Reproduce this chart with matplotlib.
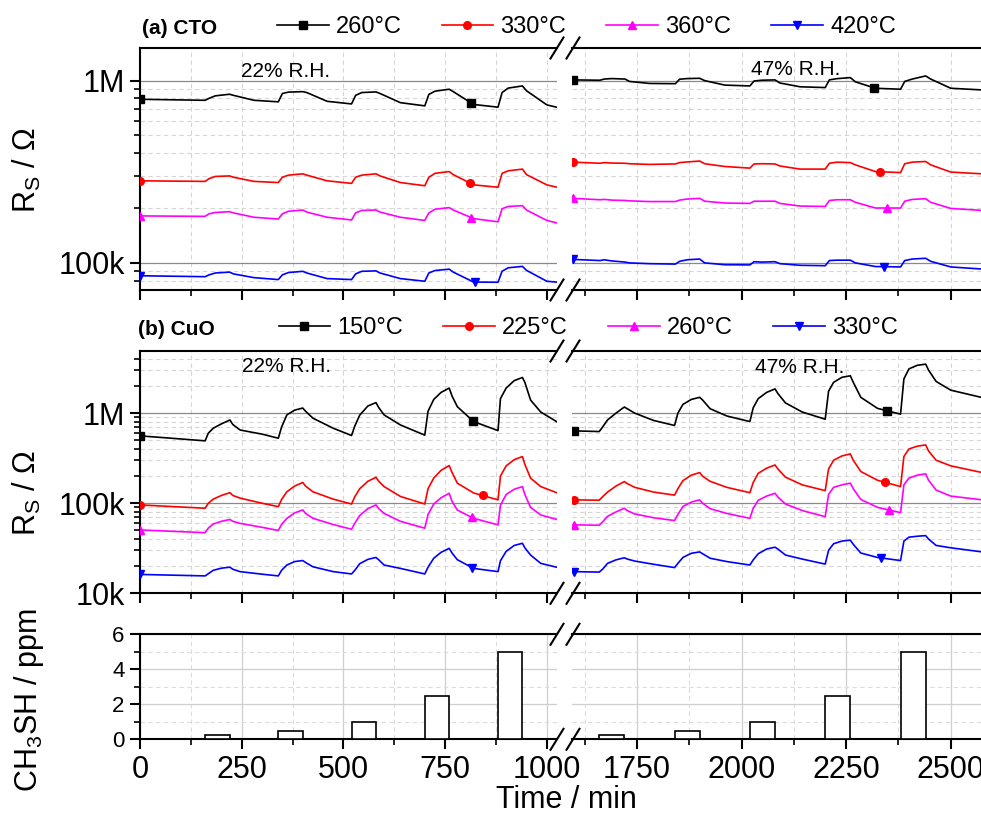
import numpy as np
import matplotlib
matplotlib.use('Agg')
import matplotlib.pyplot as plt
from matplotlib.lines import Line2D
from matplotlib.ticker import LogLocator, FixedLocator, FuncFormatter, NullFormatter

plt.rcParams['font.family'] = ['Liberation Sans', 'DejaVu Sans']
plt.rcParams['mathtext.fontset'] = 'custom'
plt.rcParams['mathtext.rm'] = 'Liberation Sans'
plt.rcParams['mathtext.it'] = 'Liberation Sans:italic'
plt.rcParams['mathtext.bf'] = 'Liberation Sans:bold'

# ---------------- data ----------------
series_colors = ['#000000', '#FF0000', '#FF00FF', '#0000FF']
series_markers = ['s', 'o', '^', 'v']
cto_labels = ['260°C', '330°C', '360°C', '420°C']
cuo_labels = ['150°C', '225°C', '260°C', '330°C']

# CTO (MOhm), left segment (22% RH)
cto_tL = [0, 160, 170, 185, 220, 230, 280, 340, 350, 365, 400, 410, 460, 520, 530, 545,
          580, 590, 640, 700, 710, 725, 760, 770, 820, 880, 890, 905, 940, 950, 1000, 1028]
cto260_L = [0.79, 0.78, 0.80, 0.825, 0.842, 0.83, 0.78, 0.765, 0.85, 0.865, 0.87, 0.86, 0.77, 0.745, 0.83, 0.86,
            0.867, 0.85, 0.757, 0.727, 0.84, 0.875, 0.897, 0.87, 0.74, 0.715, 0.86, 0.91, 0.935, 0.88, 0.736, 0.711]
cto330_L = [0.282, 0.28, 0.29, 0.298, 0.30, 0.295, 0.28, 0.276, 0.295, 0.303, 0.308, 0.303, 0.282, 0.273, 0.295, 0.303,
            0.308, 0.30, 0.276, 0.265, 0.295, 0.31, 0.317, 0.305, 0.268, 0.26, 0.31, 0.32, 0.327, 0.305, 0.268, 0.259]
cto360_L = [0.181, 0.18, 0.186, 0.189, 0.191, 0.188, 0.178, 0.174, 0.186, 0.192, 0.195, 0.19, 0.178, 0.172, 0.188, 0.194,
            0.195, 0.19, 0.178, 0.171, 0.188, 0.197, 0.201, 0.195, 0.175, 0.168, 0.198, 0.204, 0.206, 0.195, 0.171, 0.165]
cto420_L = [0.085, 0.084, 0.086, 0.088, 0.089, 0.087, 0.083, 0.081, 0.086, 0.0885, 0.0899, 0.088, 0.082, 0.081, 0.087, 0.0899,
            0.0904, 0.088, 0.082, 0.0793, 0.088, 0.0908, 0.0924, 0.089, 0.0785, 0.0783, 0.09, 0.094, 0.0957, 0.091, 0.0793, 0.0783]
# CTO right segment (47% RH)
cto_tR = [1598, 1662, 1672, 1690, 1722, 1732, 1780, 1842, 1852, 1870, 1900, 1912, 1960, 2020, 2030, 2048,
          2080, 2092, 2140, 2200, 2210, 2228, 2260, 2272, 2320, 2380, 2390, 2408, 2440, 2452, 2500, 2575]
cto260_R = [1.009, 1.005, 1.02, 1.026, 1.02, 0.99, 0.965, 0.962, 1.018, 1.026, 1.03, 1.0, 0.945, 0.935, 0.995, 1.005,
            1.009, 0.97, 0.925, 0.916, 1.01, 1.025, 1.039, 0.985, 0.908, 0.897, 0.99, 1.02, 1.061, 1.02, 0.908, 0.889]
cto330_R = [0.357, 0.352, 0.355, 0.353, 0.352, 0.35, 0.347, 0.349, 0.355, 0.358, 0.362, 0.35, 0.338, 0.331, 0.349, 0.35,
            0.349, 0.34, 0.327, 0.327, 0.352, 0.357, 0.355, 0.345, 0.317, 0.313, 0.35, 0.357, 0.36, 0.345, 0.315, 0.308]
cto360_R = [0.226, 0.222, 0.223, 0.221, 0.22, 0.219, 0.217, 0.217, 0.221, 0.224, 0.226, 0.218, 0.213, 0.212, 0.218, 0.218,
            0.218, 0.212, 0.205, 0.204, 0.22, 0.222, 0.222, 0.215, 0.2, 0.2, 0.218, 0.223, 0.225, 0.215, 0.199, 0.194]
cto420_R = [0.1045, 0.103, 0.104, 0.1025, 0.101, 0.1, 0.099, 0.0985, 0.102, 0.104, 0.105, 0.1, 0.0977, 0.0975, 0.1015, 0.101,
            0.1015, 0.099, 0.097, 0.0965, 0.103, 0.1035, 0.1035, 0.1, 0.0955, 0.095, 0.103, 0.105, 0.106, 0.102, 0.095, 0.0925]

# CuO (MOhm), left segment
cuo_tL = [0, 160, 168, 180, 200, 221, 228, 246, 300, 340, 348, 361, 380, 400, 407, 425, 475, 520, 528, 540,
          560, 580, 587, 600, 640, 700, 708, 722, 740, 760, 767, 780, 820, 880, 886, 900, 920, 940, 946, 960, 985, 1028]
cuo150_L = [0.56, 0.493, 0.60, 0.68, 0.76, 0.84, 0.75, 0.65, 0.585, 0.527, 0.70, 0.957, 1.08, 1.14, 1.05, 0.88, 0.68, 0.565, 0.72, 0.95,
            1.2, 1.31, 1.15, 0.957, 0.74, 0.57, 1.05, 1.42, 1.7, 1.9, 1.55, 1.18, 0.807, 0.64, 1.45, 1.9, 2.3, 2.49, 2.2, 1.4, 1.03, 0.786]
cuo225_L = [0.0958, 0.088, 0.10, 0.111, 0.122, 0.131, 0.122, 0.114, 0.10, 0.0917, 0.11, 0.134, 0.155, 0.17, 0.155, 0.134, 0.111, 0.098, 0.118, 0.145,
            0.175, 0.194, 0.175, 0.153, 0.119, 0.098, 0.145, 0.19, 0.232, 0.262, 0.22, 0.167, 0.13, 0.109, 0.2, 0.26, 0.305, 0.33, 0.27, 0.19, 0.153, 0.129]
cuo260_L = [0.0505, 0.0471, 0.053, 0.0588, 0.063, 0.066, 0.063, 0.0598, 0.054, 0.0499, 0.058, 0.068, 0.078, 0.0843, 0.077, 0.068, 0.058, 0.0514, 0.06, 0.073,
            0.087, 0.0958, 0.087, 0.077, 0.063, 0.0528, 0.075, 0.098, 0.115, 0.129, 0.105, 0.084, 0.068, 0.0575, 0.095, 0.125, 0.143, 0.153, 0.125, 0.09, 0.074, 0.0654]
cuo330_L = [0.0162, 0.0156, 0.0165, 0.018, 0.019, 0.0195, 0.0185, 0.0174, 0.0163, 0.0156, 0.018, 0.0206, 0.0225, 0.0231, 0.022, 0.0197, 0.0174, 0.0164, 0.018, 0.0213,
            0.0238, 0.025, 0.0235, 0.0206, 0.0189, 0.0164, 0.0195, 0.0245, 0.0285, 0.0316, 0.028, 0.0236, 0.0189, 0.0174, 0.023, 0.0292, 0.034, 0.0359, 0.032, 0.0266, 0.0215, 0.0193]
# CuO right segment
cuo_tR = [1600, 1660, 1668, 1680, 1700, 1720, 1727, 1745, 1790, 1840, 1848, 1860, 1880, 1900, 1907, 1925, 1965, 2020, 2028, 2040,
          2060, 2080, 2087, 2105, 2145, 2200, 2208, 2220, 2240, 2260, 2267, 2285, 2325, 2380, 2388, 2400, 2420, 2440, 2447, 2465, 2500, 2575]
cuo150_R = [0.636, 0.625, 0.70, 0.842, 1.0, 1.17, 1.12, 1.0, 0.83, 0.73, 1.0, 1.25, 1.42, 1.5, 1.4, 1.12, 0.93, 0.807, 1.15, 1.45,
            1.7, 1.86, 1.65, 1.3, 1.03, 0.857, 1.75, 2.2, 2.5, 2.6, 2.2, 1.5, 1.13, 0.975, 2.4, 3.1, 3.4, 3.5, 3.0, 2.25, 1.8, 1.49]
cuo225_R = [0.109, 0.108, 0.118, 0.133, 0.155, 0.174, 0.165, 0.15, 0.133, 0.123, 0.145, 0.178, 0.205, 0.219, 0.2, 0.175, 0.15, 0.131, 0.17, 0.215,
            0.245, 0.266, 0.24, 0.195, 0.16, 0.138, 0.24, 0.3, 0.335, 0.353, 0.3, 0.225, 0.18, 0.153, 0.33, 0.4, 0.43, 0.444, 0.38, 0.3, 0.26, 0.219]
cuo260_R = [0.0575, 0.057, 0.062, 0.0715, 0.08, 0.0879, 0.083, 0.076, 0.069, 0.0642, 0.075, 0.092, 0.103, 0.109, 0.1, 0.087, 0.077, 0.068, 0.088, 0.108,
            0.12, 0.129, 0.117, 0.098, 0.083, 0.0709, 0.125, 0.15, 0.16, 0.167, 0.145, 0.11, 0.09, 0.0786, 0.16, 0.19, 0.205, 0.212, 0.18, 0.14, 0.12, 0.109]
cuo330_R = [0.0174, 0.0172, 0.0185, 0.0215, 0.0235, 0.0248, 0.024, 0.0228, 0.021, 0.0193, 0.0215, 0.025, 0.0278, 0.0288, 0.0275, 0.0245, 0.0225, 0.0206, 0.0235, 0.0275,
            0.031, 0.0325, 0.031, 0.0266, 0.024, 0.0211, 0.03, 0.0355, 0.038, 0.0389, 0.035, 0.028, 0.025, 0.0231, 0.038, 0.042, 0.043, 0.0437, 0.04, 0.034, 0.032, 0.0288]

# marker positions (min)
cto_mark_L = [814, 811, 814, 824]
cto_mark_R = [2316, 2332, 2347, 2340]
cuo_mark_L = [819, 842, 816, 816]
cuo_mark_R = [2347, 2343, 2352, 2334]

# CH3SH pulses
gas_conc = [0.25, 0.5, 1, 2.5, 5]
gas_on_L = [160, 340, 520, 700, 880]
gas_on_R = [1660, 1840, 2020, 2200, 2380]
gas_dur = 60

# ---------------- layout ----------------
W, H = 981, 814
fig = plt.figure(figsize=(W / 100, H / 100), dpi=100)

def fx(px):
    return px / W

def fy(py):
    return 1 - py / H

rows_px = [(48, 290), (351, 593.3), (634.3, 739.3)]
segL_px = (140, 557)
segR_px = (572, 983)
xlimL = (0, 1025)
xlimR = (1595, 2577)

def add_ax(seg, row):
    return fig.add_axes([fx(seg[0]), fy(row[1]), (seg[1] - seg[0]) / W, (row[1] - row[0]) / H])

SPW = 1.5
TICKFS = 22
decade_labels = {1e4: '10k', 1e5: '100k', 1e6: '1M'}

def style_common(ax, side, xmaj, xmin, xlim):
    ax.set_xlim(*xlim)
    ax.xaxis.set_major_locator(FixedLocator(xmaj))
    ax.xaxis.set_minor_locator(FixedLocator(xmin))
    for s in ax.spines.values():
        s.set_linewidth(SPW)
    ax.spines['right'].set_visible(False)
    if side == 'R':
        ax.spines['left'].set_visible(False)
        ax.tick_params(axis='y', which='both', left=False, labelleft=False)
    ax.tick_params(axis='x', which='both', top=False)
    ax.tick_params(which='major', direction='out', length=7, width=SPW, labelsize=TICKFS, pad=4)
    ax.tick_params(which='minor', direction='out', length=4, width=1.2)
    ax.set_axisbelow(True)

xmajL = [0, 250, 500, 750, 1000]
xminL = [125, 375, 625, 875]
xmajR = [1750, 2000, 2250, 2500]
xminR = [1625, 1875, 2125, 2375]

def log_panel(row, ylim, data, labels, marks_L, marks_R, letter, rh_pos, leg_y, leg_x):
    axes = []
    for side, seg, xmaj, xmin, xlim in (('L', segL_px, xmajL, xminL, xlimL), ('R', segR_px, xmajR, xminR, xlimR)):
        ax = add_ax(seg, row)
        ax.set_yscale('log')
        ax.set_ylim(*ylim)
        ax.yaxis.set_major_locator(LogLocator(base=10, numticks=10))
        ax.yaxis.set_minor_locator(LogLocator(base=10, subs=np.arange(2, 10), numticks=20))
        ax.yaxis.set_major_formatter(FuncFormatter(lambda v, p: decade_labels.get(v, '')))
        ax.yaxis.set_minor_formatter(NullFormatter())
        style_common(ax, side, xmaj, xmin, xlim)
        ax.tick_params(axis='x', labelbottom=False)
        ax.grid(which='major', axis='y', color='#8a8a8a', lw=0.9, ls='-')
        ax.grid(which='minor', axis='y', color='#d6d6d6', lw=0.8, ls=(0, (4, 3)))
        ax.grid(which='both', axis='x', color='#d6d6d6', lw=0.8, ls=(0, (4, 3)))
        axes.append(ax)
    axL, axR = axes
    handles = []
    for i, ((tL, vL), (tR, vR)) in enumerate(data):
        c = series_colors[i]
        m = series_markers[i]
        for ax, t, v, mk in ((axL, tL, vL, marks_L[i]), (axR, tR, vR, marks_R[i])):
            t = np.asarray(t, float)
            v = np.asarray(v, float) * 1e6
            ax.plot(t, v, color=c, lw=1.2, zorder=3)
            tm = np.array([t[0], mk])
            vm = np.exp(np.interp(tm, t, np.log(v)))
            ax.plot(tm, vm, ls='none', marker=m, color=c, ms=5.5, zorder=4)
        handles.append(Line2D([], [], color=c, lw=1.2, marker=m, ms=5.5))
    fig.legend(handles, labels, loc='center left', bbox_to_anchor=(fx(leg_x), fy(leg_y)),
               bbox_transform=fig.transFigure, ncol=4, frameon=False, fontsize=17,
               handlelength=2.2, handletextpad=0.3, columnspacing=1.69, borderpad=0,
               borderaxespad=0, numpoints=1)
    fig.text(fx(letter[1]), fy(letter[2]), letter[0], fontsize=15, fontweight='bold', va='baseline')
    for (txt, x, y) in rh_pos:
        fig.text(fx(x), fy(y), txt, fontsize=15, ha='center', va='baseline')
    return axL, axR

cto_data = [(cto_tL, cto260_L), (cto_tR, cto260_R)], [(cto_tL, cto330_L), (cto_tR, cto330_R)], \
           [(cto_tL, cto360_L), (cto_tR, cto360_R)], [(cto_tL, cto420_L), (cto_tR, cto420_R)]
cuo_data = [(cuo_tL, cuo150_L), (cuo_tR, cuo150_R)], [(cuo_tL, cuo225_L), (cuo_tR, cuo225_R)], \
           [(cuo_tL, cuo260_L), (cuo_tR, cuo260_R)], [(cuo_tL, cuo330_L), (cuo_tR, cuo330_R)]

log_panel(rows_px[0], (71e3, 1.51e6), cto_data, cto_labels, cto_mark_L, cto_mark_R,
          ('(a) CTO', 142, 34), [('22% R.H.', 286, 77), ('47% R.H.', 796, 75)], 27, 276.7)
log_panel(rows_px[1], (1e4, 4.9e6), cuo_data, cuo_labels, cuo_mark_L, cuo_mark_R,
          ('(b) CuO', 138, 335), [('22% R.H.', 287, 372), ('47% R.H.', 800, 373)], 328, 278.5)

# gas panel
for side, seg, xmaj, xmin, xlim, starts in (('L', segL_px, xmajL, xminL, xlimL, gas_on_L),
                                              ('R', segR_px, xmajR, xminR, xlimR, gas_on_R)):
    ax = add_ax(seg, rows_px[2])
    ax.set_ylim(0, 6)
    ax.yaxis.set_major_locator(FixedLocator([0, 2, 4, 6]))
    ax.yaxis.set_minor_locator(FixedLocator([1, 3, 5]))
    style_common(ax, side, xmaj, xmin, xlim)
    ax.tick_params(axis='y', labelsize=16)
    ax.grid(which='major', color='#cfcfcf', lw=0.9, ls='-')
    ax.grid(which='minor', color='#dcdcdc', lw=0.8, ls=(0, (4, 3)))
    ax.bar(starts, gas_conc, width=gas_dur, align='edge', facecolor='white',
           edgecolor='black', lw=1.2, zorder=3)

# axis labels
fig.text(fx(27), fy(170), r'R$_\mathrm{S}$ / Ω', rotation=90, fontsize=22, ha='center', va='center')
fig.text(fx(27), fy(493), r'R$_\mathrm{S}$ / Ω', rotation=90, fontsize=22, ha='center', va='center')
fig.text(fx(29), fy(700), r'CH$_\mathrm{3}$SH / ppm', rotation=90, fontsize=22, ha='center', va='center')
fig.text(fx(566), fy(808), 'Time / min', fontsize=22, ha='center', va='baseline')

# axis-break marks
for (top, bot) in rows_px:
    for y in (top, bot):
        for cx in (557, 573):
            fig.add_artist(Line2D([fx(cx - 6.5), fx(cx + 6.5)], [fy(y + 10.5), fy(y - 10.5)],
                                  color='black', lw=1.5, transform=fig.transFigure))

fig.savefig('out.png', dpi=100)
